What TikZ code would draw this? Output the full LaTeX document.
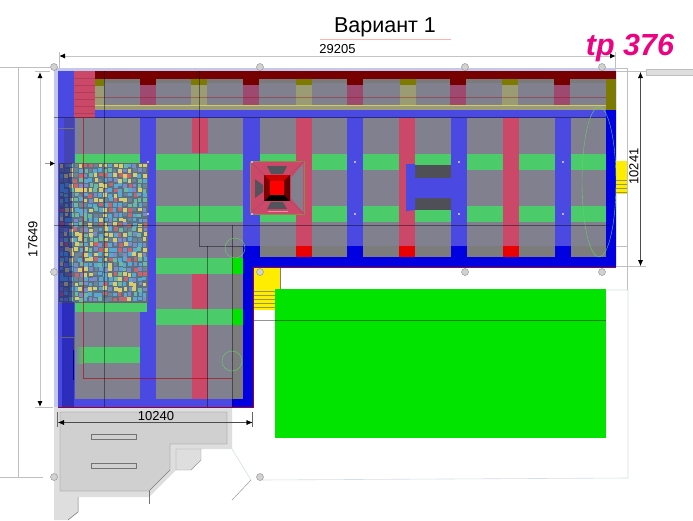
\documentclass[tikz,border=0pt]{standalone}
\usepackage{fontspec}
\setmainfont{Liberation Sans}
\usetikzlibrary{arrows.meta}
\definecolor{wallblue}{HTML}{0000E0}
\definecolor{beamblue}{HTML}{4A4AE2}
\definecolor{panelgray}{HTML}{80808E}
\definecolor{stripgray}{HTML}{7C7C7C}
\definecolor{rowgreen}{HTML}{4CCB6A}
\definecolor{fieldgreen}{HTML}{00E400}
\definecolor{beampink}{HTML}{CC4868}
\definecolor{roofred}{HTML}{760000}
\definecolor{roofpink}{HTML}{9E4A70}
\definecolor{roofolive}{HTML}{7C7A00}
\definecolor{paleolive}{HTML}{9C9C74}
\definecolor{halo}{HTML}{C4C8EA}
\definecolor{padgray}{HTML}{D0D0D0}
\definecolor{padlight}{HTML}{DEDEDE}
\definecolor{dimgray}{HTML}{C4C4C4}
\definecolor{paleblue}{HTML}{D4DEE8}
\definecolor{tileA}{HTML}{D8CC70}
\definecolor{tileB}{HTML}{58A8D4}
\definecolor{tileC}{HTML}{C8646A}
\definecolor{tileD}{HTML}{6C8498}
\definecolor{tileE}{HTML}{6CB8A0}
\definecolor{tileF}{HTML}{7A8CC8}
\pgfmathdeclarerandomlist{tiles}{{tileA}{tileB}{tileC}{tileD}{tileE}{tileF}{tileB}{tileA}}
\tikzset{
  dimline/.style={dimgray,line width=1pt},
  dimarrow/.style={dimgray,line width=1pt,{Latex[black,length=6pt,width=5pt]}-{Latex[black,length=6pt,width=5pt]}},
  thinline/.style={black,opacity=.42,line width=.5pt},
  gridmark/.style={circle,draw=black!45,fill=black!18,line width=.4pt,inner sep=0pt,minimum size=7pt},
  padline/.style={black!55,line width=.5pt},
  dimtext/.style={inner sep=0pt,font=\fontsize{13}{13}\selectfont}
}
\begin{document}
\begin{tikzpicture}[x=1pt,y=-1pt]
\useasboundingbox (0,0) rectangle (693,520);
\fill[white] (0,0) rectangle (693,520);
\fill[padlight] (54,407) -- (232,407) -- (232,449) -- (176,449) -- (176,470) -- (149,497) -- (54,497) -- cycle;
\fill[padlight] (54,497) -- (78,497) -- (78,512) -- (68,520) -- (54,520) -- cycle;
\draw[padline] (78,497) -- (78,512) -- (68,520);
\filldraw[fill=padgray,draw=black!50,line width=.4pt] (60,412) -- (227,412) -- (227,444) -- (170,444) -- (170,470) -- (149,491) -- (60,491) -- cycle;
\filldraw[fill=padlight,draw=black!40,line width=.4pt] (176,449) -- (201,449) -- (201,460) -- (191,470) -- (176,470) -- cycle;
\draw[padline] (149,491) -- (149,504);
\foreach \y in {434,463}
  \filldraw[fill=padgray,draw=black!55,line width=.4pt] (91,\y) rectangle (136,\y+5.5);
\draw[paleblue,line width=.6pt] (232,449) -- (251,480);
\draw[black!40,line width=.5pt] (232,500) -- (251,480);
\draw[paleblue,line width=.6pt] (260,480) -- (628,478) -- (628,290) -- (253,290);
\fill[halo] (54,68) rectangle (616,71);
\fill[halo] (54,68) rectangle (58,407);
\fill[wallblue] (58,71) -- (616,71) -- (616,267) -- (253,267) -- (253,407) -- (58,407) -- cycle;
\fill[beamblue] (58,110) rectangle (606,246);
\fill[beamblue] (58,71) rectangle (232,407);
\fill[panelgray] (75,118) rectangle (140,399);
\fill[panelgray] (156,118) rectangle (243,246);
\fill[panelgray] (156,246) rectangle (232,399);
\fill[stripgray] (232,246) rectangle (243,399);
\foreach \a/\b in {260/347,363/451,467/555,571/606}
  \fill[panelgray] (\a,118) rectangle (\b,246);
\foreach \a/\b in {260/347,363/451,467/555,571/606}
  \fill[stripgray] (\a,246) rectangle (\b,257);
\fill[wallblue] (243,246) rectangle (260,260);
\foreach \a in {347,451,555}
  \fill[wallblue] (\a,246) rectangle (\a+16,257);
\fill[wallblue] (606,110) rectangle (616,267);
\fill[beampink] (192,118) rectangle (208,153);
\fill[beampink] (192,274) rectangle (208,399);
\foreach \a in {296,399,503} {
  \fill[beampink] (\a,118) rectangle (\a+16,246);
  \fill[red!92!black] (\a,246) rectangle (\a+16,257);
}
\fill[rowgreen] (75,154) rectangle (140,170);
\foreach \y in {154,206} {
  \foreach \a/\b in {156/243,260/296,312/347,363/399,415/451,467/503,519/555,571/606}
    \fill[rowgreen] (\a,\y) rectangle (\b,\y+16);
}
\foreach \y in {258,309} {
  \fill[rowgreen] (156,\y) rectangle (232,\y+16);
  \fill[fieldgreen] (232,\y) rectangle (243,\y+16);
}
\fill[rowgreen] (75,297) rectangle (147,312);
\fill[left color=panelgray,right color=rowgreen] (75,347) rectangle (84,363);
\fill[rowgreen] (84,347) rectangle (140,363);
\fill[panelgray] (95,79) rectangle (606,105);
\fill[black!52] (95,79) rectangle (606,83);
\fill[roofred] (95,71) rectangle (616,79);
\fill[paleolive] (95,105) rectangle (606,110);
\draw[yellow!70!black!70,line width=.8pt] (95,105) -- (606,105);
\fill[paleolive] (95,86) rectangle (104,105);
\fill[roofolive] (95,79) rectangle (104,86);
\foreach \a in {140,243,347,450,554} {
  \fill[roofred] (\a,79) rectangle (\a+16,85);
  \fill[roofpink] (\a,85) rectangle (\a+16,105);
}
\foreach \a in {191,296,400,502} {
  \fill[roofolive] (\a,79) rectangle (\a+16,85);
  \fill[paleolive] (\a,85) rectangle (\a+16,105);
}
\fill[roofolive] (606,79) rectangle (616,110);
\fill[beampink] (74,71) rectangle (95,118);
\foreach \y in {78,85,...,113}
  \draw[beampink!85!black,line width=.5pt] (74,\y) -- (95,\y);
\fill[wallblue!45!black!75,opacity=.55] (64,118) rectangle (74,165);
\draw[black!55,line width=.5pt] (59,128) -- (74,128);
\pgfmathsetseed{376}
\fill[black!15!tileD] (59,163) rectangle (147,302);
\foreach \i in {0,...,17}
  \foreach \j in {0,...,27} {
    \pgfmathrandomitem{\tile}{tiles}
    \pgfmathsetmacro{\dx}{59.5+4.9*\i+rand*.8}
    \pgfmathsetmacro{\dy}{163.5+4.95*\j+rand*.8}
    \fill[\tile] (\dx,\dy) rectangle (\dx+3.8,\dy+3.8);
  }
\draw[black!60,line width=.5pt] (59,163) rectangle (147,302);
\fill[black!50!wallblue,opacity=.45] (59,163) rectangle (72,302);
\fill[black!40!wallblue,opacity=.4] (62,302) rectangle (74,407);
\draw[black!60,line width=.5pt] (60,337) -- (74,337) -- (74,350);
\draw[wallblue!60!black,line width=.7pt] (73.5,350) -- (73.5,380);
\filldraw[fill=beampink,draw=yellow!50!black,line width=.3pt] (250,161) rectangle (304,214);
\fill[black!35!panelgray] (267,166) -- (287,166) -- (283,174) -- (271,174) -- cycle;
\fill[black!35!panelgray] (267,209) -- (287,209) -- (283,202) -- (271,202) -- cycle;
\fill[black!35!panelgray] (255,179) -- (263,185) -- (263,192) -- (255,198) -- cycle;
\fill[panelgray] (303,164) -- (291,178) -- (291,198) -- (303,212) -- cycle;
\draw[roofpink,line width=.5pt] (250,161) -- (264,175) (304,161) -- (290,175) (250,214) -- (264,201) (304,214) -- (290,201);
\draw[beampink!60!white,line width=.5pt] (268,211) -- (288,211);
\fill[black] (264,175) rectangle (290,201);
\fill[red!80!black] (264,175) -- (290,175) -- (284,181) -- (270,181) -- cycle;
\fill[black!50!red] (264,175) -- (270,181) -- (270,195) -- (264,201) -- cycle;
\fill[black!60!red] (290,175) -- (284,181) -- (284,195) -- (290,201) -- cycle;
\fill[red] (270,181) rectangle (284,195);
\fill[black!38!panelgray] (415,165) rectangle (451,178);
\fill[black!38!panelgray] (415,198) rectangle (451,210);
\fill[beamblue] (406,164) -- (415,164) -- (415,178) -- (459,178) -- (459,170) -- (463,178) -- (465,197) -- (452,205) -- (459,198) -- (415,198) -- (415,210) -- (406,211) -- cycle;
\fill[fieldgreen] (275,289) rectangle (606,438);
\fill[yellow!95!orange] (253,267) rectangle (280,289);
\fill[yellow!95!orange] (253,289) rectangle (275,310);
\foreach \y in {291,295,...,307}
  \draw[yellow!55!black,line width=.4pt] (254,\y) -- (275,\y);
\draw[black!50,line width=.5pt] (280,267) -- (280,289);
\fill[yellow!95!orange] (616,161) rectangle (628,194);
\foreach \y in {180,184,188,192}
  \draw[yellow!55!black,line width=.4pt] (616,\y) -- (628,\y);
\draw[red!70!black,opacity=.6,line width=.4pt] (83,118) -- (83,378) -- (232,378);
\draw[red!60!black,opacity=.35,line width=.4pt] (95,97) -- (606,97);
\draw[thinline] (54,117) -- (606,117);
\draw[thinline] (54,225) -- (610,225);
\draw[thinline] (104,71) -- (104,407);
\draw[thinline] (199,71) -- (199,246) -- (243,246);
\draw[thinline] (207,246) -- (207,407);
\draw[thinline] (232,225) -- (232,407);
\draw[thinline] (253,320) -- (606,320);
\draw[green!70!black!60,line width=.4pt] (599,182) ellipse (17 and 75);
\draw[green!70!black!60,line width=.4pt] (235,248) circle (10);
\draw[green!70!black!60,line width=.4pt] (232,361) circle (10);
\foreach \a in {148,252,355,459,563}
  \foreach \y in {162,214}
    \fill[white!70!blue] (\a-1,\y-1) rectangle (\a+1,\y+1);
\draw[purple!80!black,line width=.6pt] (616,267) -- (253,267) -- (253,407) -- (58,407);
\draw[black!25,line width=.5pt] (616,68) -- (627,68) -- (627,290);
\draw[black!25,line width=.5pt] (616,246) -- (627,246);
\draw[black!25,line width=.5pt] (0,67) -- (50,67) (18,67) -- (18,477) (0,477) -- (43,477);
\draw[black!25,line width=.5pt] (35,71) -- (50,71) (35,407) -- (53,407);
\draw[black!25,line width=.5pt] (616,71) -- (646,71) (616,266) -- (646,266);
\fill[padlight,draw=black!25,line width=.4pt] (646,69) rectangle (693,75);
\coordinate (widthleft) at (59,56);
\coordinate (widthright) at (616,56);
\coordinate (heightleft) at (40,72);
\coordinate (heightbottom) at (40,407);
\coordinate (heightright) at (640.5,72);
\coordinate (heightrightb) at (640.5,266);
\coordinate (legleft) at (58,422.5);
\coordinate (legright) at (252.5,422.5);
\draw[dimarrow] (widthleft) -- (widthright);
\draw[black!25,line width=.5pt] (59,52) -- (59,68);
\draw[black!25,line width=.5pt] (615,52) -- (615,68);
\draw[dimarrow] (heightleft) -- (heightbottom);
\draw[dimarrow,black!70,line width=.4pt] (heightright) -- (heightrightb);
\draw[dimarrow,black!70,line width=.4pt] (legleft) -- (legright);
\draw[black!60,line width=.4pt] (57.5,412) -- (57.5,427) (252.5,412) -- (252.5,427);
\draw[-{Latex[black,length=5pt,width=5pt]},black!40,line width=.5pt] (45,163.5) -- (55,163.5);
\foreach \n/\a/\b in {a/54/67,b/260/67,c/465/67,d/602/67,e/54/272,f/260/272,g/465/272,h/602/272,i/54/477,j/260/477}
  \node[gridmark] (mark\n) at (\a,\b) {};
\draw[red!30,line width=.5pt] (320,39) -- (451,39);
\node[inner sep=0pt,font=\fontsize{21.5}{21.5}\selectfont] (title) at (385,27.5) {Вариант 1};
\node[dimtext,fill=white,inner xsep=2pt] (widthlabel) at (337.5,49) {29205};
\node[dimtext,rotate=90] (heightlabel) at (33,239) {17649};
\node[dimtext,rotate=90] (rightlabel) at (634,166.5) {10241};
\node[dimtext] (leglabel) at (156,416.5) {10240};
\node[inner sep=0pt,text=magenta!90!red,font=\fontsize{30.5}{30.5}\selectfont\bfseries\itshape] (tag) at (630,48) {tp 376};
\end{tikzpicture}
\end{document}
